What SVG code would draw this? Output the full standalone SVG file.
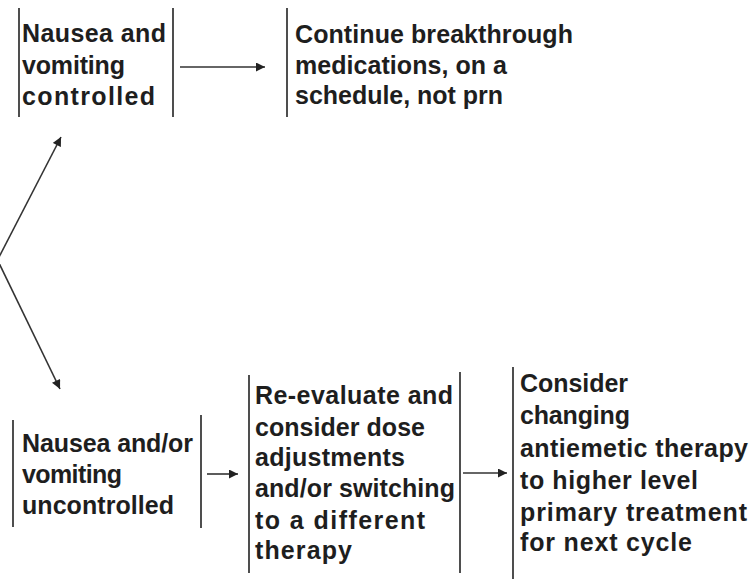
<svg xmlns="http://www.w3.org/2000/svg" width="754" height="579" viewBox="0 0 754 579">
<defs>
<marker id="ah" viewBox="0 0 10 10" refX="10" refY="5" markerWidth="10" markerHeight="9" markerUnits="userSpaceOnUse" orient="auto">
<path d="M0,0 L10,5 L0,10 z" fill="#222"/>
</marker>
<style>
.bar{stroke:#222;stroke-width:1.6;fill:none}
.con{stroke:#333;stroke-width:1.6;fill:none}
text{font-family:"Liberation Sans",Arial,sans-serif;font-weight:bold;font-size:25px;fill:#1e1e1e}
</style>
</defs>
<rect width="754" height="579" fill="#fff"/>
<g id="controlled">
<line class="bar" x1="19" y1="8" x2="19" y2="117"/>
<line class="bar" x1="173" y1="8" x2="173" y2="117"/>
<text x="22" y="42" textLength="144" lengthAdjust="spacing">Nausea and</text>
<text x="22" y="74" textLength="103" lengthAdjust="spacing">vomiting</text>
<text x="22" y="105" textLength="133" lengthAdjust="spacing">controlled</text>
</g>
<g id="continue">
<line class="bar" x1="287" y1="8" x2="287" y2="117"/>
<text x="295" y="43" textLength="278" lengthAdjust="spacing">Continue breakthrough</text>
<text x="295" y="74" textLength="212" lengthAdjust="spacing">medications, on a</text>
<text x="295" y="104" textLength="208" lengthAdjust="spacing">schedule, not prn</text>
</g>
<g id="uncontrolled">
<line class="bar" x1="13" y1="420" x2="13" y2="527"/>
<line class="bar" x1="201" y1="415" x2="201" y2="528"/>
<text x="22" y="452" textLength="171" lengthAdjust="spacing">Nausea and/or</text>
<text x="22" y="483" textLength="100" lengthAdjust="spacing">vomiting</text>
<text x="22" y="514" textLength="152" lengthAdjust="spacing">uncontrolled</text>
</g>
<g id="reevaluate">
<line class="bar" x1="249" y1="375" x2="249" y2="573"/>
<line class="bar" x1="460" y1="372" x2="460" y2="573"/>
<text x="255" y="404" textLength="198" lengthAdjust="spacing">Re-evaluate and</text>
<text x="255" y="436" textLength="170" lengthAdjust="spacing">consider dose</text>
<text x="255" y="466" textLength="150" lengthAdjust="spacing">adjustments</text>
<text x="255" y="497" textLength="200" lengthAdjust="spacing">and/or switching</text>
<text x="255" y="529" textLength="170" lengthAdjust="spacing">to a different</text>
<text x="255" y="559" textLength="97" lengthAdjust="spacing">therapy</text>
</g>
<g id="consider">
<line class="bar" x1="513" y1="367" x2="513" y2="579"/>
<text x="520" y="392" textLength="108" lengthAdjust="spacing">Consider</text>
<text x="520" y="424" textLength="110" lengthAdjust="spacing">changing</text>
<text x="520" y="457" textLength="228" lengthAdjust="spacing">antiemetic therapy</text>
<text x="520" y="489" textLength="178" lengthAdjust="spacing">to higher level</text>
<text x="520" y="521" textLength="227" lengthAdjust="spacing">primary treatment</text>
<text x="520" y="551" textLength="172" lengthAdjust="spacing">for next cycle</text>
</g>
<g id="connectors">
<line class="con" x1="180" y1="67" x2="265" y2="67" marker-end="url(#ah)"/>
<line class="con" x1="-2" y1="259" x2="61" y2="137" marker-end="url(#ah)"/>
<line class="con" x1="-2" y1="261" x2="60" y2="389" marker-end="url(#ah)"/>
<line class="con" x1="207" y1="474" x2="238" y2="474" marker-end="url(#ah)"/>
<line class="con" x1="463" y1="473" x2="507" y2="473" marker-end="url(#ah)"/>
</g>
</svg>
